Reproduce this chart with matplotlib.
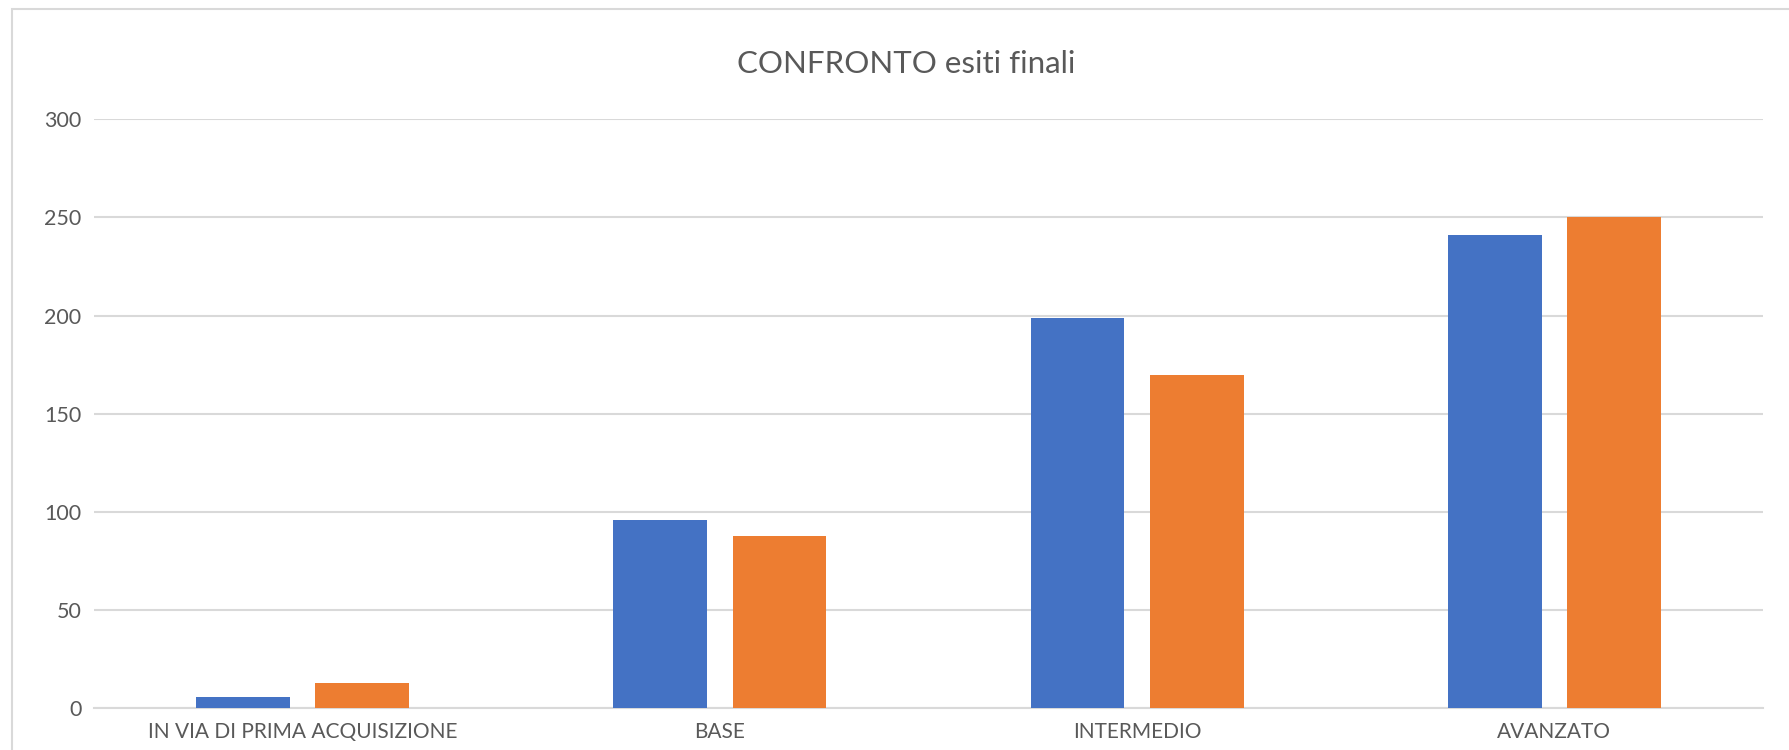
import matplotlib.pyplot as plt
from matplotlib.patches import Rectangle
import numpy as np

# ============================
# DATA
# ============================
categories = ["IN VIA DI PRIMA ACQUISIZIONE", "BASE", "INTERMEDIO", "AVANZATO"]
serie_1 = [6, 96, 199, 241]
serie_2 = [13, 88, 170, 250]
y_ticks = [0, 50, 100, 150, 200, 250, 300]

BLUE = "#4472C4"
ORANGE = "#ED7D31"
TEXT = "#595959"
GRID = "#D9D9D9"

plt.rcParams["font.family"] = ["Lato", "DejaVu Sans"]

# ============================
# DRAW CHART
# ============================
fig = plt.figure(figsize=(17.89, 7.5), dpi=100)
ax = fig.add_axes([94 / 1789, 1 - 708.3 / 750, (1763 - 94) / 1789, (708.3 - 119.3) / 750])

x = np.arange(len(categories))
width = 0.225
offset = 0.143
ax.bar(x - offset, serie_1, width, color=BLUE, zorder=3)
ax.bar(x + offset, serie_2, width, color=ORANGE, zorder=3)

ax.set_xlim(-0.5, len(categories) - 0.5)
ax.set_ylim(0, 300)
ax.set_yticks(y_ticks)
ax.set_xticks(x)
ax.set_xticklabels(categories)

# gridlines like Excel
ax.grid(axis="y", color=GRID, linewidth=1.5, zorder=0)
for side in ["top", "right", "left"]:
    ax.spines[side].set_visible(False)
ax.spines["bottom"].set_color(GRID)
ax.spines["bottom"].set_linewidth(1.5)
ax.tick_params(axis="x", length=0, colors=TEXT, labelsize=15, pad=10)
ax.tick_params(axis="y", length=0, colors=TEXT, labelsize=15.5, pad=9)

# Title
fig.text(906 / 1789, 1 - 64 / 750, "CONFRONTO esiti finali",
         ha="center", va="center", fontsize=22.5, color=TEXT)

# chart area border (top and left visible)
fig.add_artist(Rectangle((12 / 1789, -0.1), 1.2, 1 - 9 / 750 + 0.1,
                         transform=fig.transFigure, fill=False,
                         edgecolor=GRID, linewidth=1.5))

fig.savefig("out.png", dpi=100, facecolor="white")
